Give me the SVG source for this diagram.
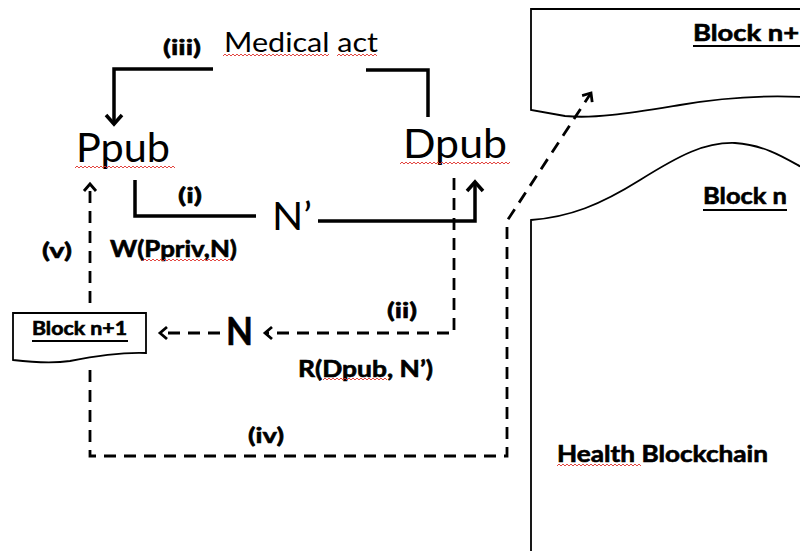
<svg xmlns="http://www.w3.org/2000/svg" width="800" height="551" viewBox="0 0 800 551">
<defs>
<style>
.t{font-family:Lato,"Open Sans","Liberation Sans",sans-serif;fill:#000}
.b{font-weight:bold;stroke:#000;stroke-width:0.6}
.s{fill:none;stroke:#000;stroke-width:3.5;stroke-linejoin:miter}
.d{fill:none;stroke:#000;stroke-width:2.8;stroke-dasharray:12 8}
.blk{fill:#fff;stroke:#000;stroke-width:1.8}
.u{stroke:#000;stroke-width:2}
.sq{fill:none;stroke:#e0302a;stroke-width:0.9}
</style>
<marker id="as" markerUnits="userSpaceOnUse" markerWidth="24" markerHeight="24" viewBox="-12 -12 24 24" refX="0" refY="0" orient="auto">
<path d="M-9,-8 L0,0 L-9,8" fill="none" stroke="#000" stroke-width="3.5"/>
</marker>
<marker id="ad" markerUnits="userSpaceOnUse" markerWidth="20" markerHeight="20" viewBox="-10 -10 20 20" refX="0" refY="0" orient="auto">
<path d="M-7,-6 L0,0 L-7,6" fill="none" stroke="#000" stroke-width="2.8"/>
</marker>
</defs>
<rect width="800" height="551" fill="#fff"/>

<g id="block-chain-right">
<path class="blk" d="M531,9 L803,9 L803,97 C760,95 720,98 680,105 C630,113 595,119 565,116 L531,110 Z"/>
<path class="blk" d="M531,553 L531,220 C570,217 600,205 640,180 C680,155 705,142 735,143 C765,145 785,158 803,168 L803,553"/>
<text class="t b" x="693" y="41" font-size="23" textLength="122" lengthAdjust="spacingAndGlyphs">Block n+1</text>
<line class="u" x1="693" y1="46" x2="805" y2="46"/>
<text class="t b" x="703" y="204" font-size="23" textLength="84" lengthAdjust="spacingAndGlyphs">Block n</text>
<line class="u" x1="703" y1="210" x2="787" y2="210"/>
<text class="t b" x="557" y="462" font-size="22" textLength="211" lengthAdjust="spacingAndGlyphs">Health Blockchain</text>
</g>

<g id="block-n1-small">
<path class="blk" d="M13,313 L146,313 L146,353 C120,352 95,356 70,361 C50,364 30,362 13,360 Z"/>
<text class="t b" x="32" y="335" font-size="18" textLength="95" lengthAdjust="spacingAndGlyphs">Block n+1</text>
<line class="u" x1="32" y1="341" x2="128" y2="341" stroke-width="1.5"/>
</g>

<g id="ppub">
<text class="t" x="76" y="162" font-size="40" textLength="94" lengthAdjust="spacingAndGlyphs">Ppub</text>
</g>
<g id="dpub">
<text class="t" x="403" y="158" font-size="40" textLength="104" lengthAdjust="spacingAndGlyphs">Dpub</text>
</g>
<g id="nprime">
<text class="t" x="272" y="230" font-size="39" textLength="40" lengthAdjust="spacingAndGlyphs">N’</text>
</g>
<g id="n">
<text class="t b" x="226" y="345" font-size="39" textLength="27" lengthAdjust="spacingAndGlyphs" stroke-width="1.5">N</text>
</g>
<g id="medical-act">
<text class="t" x="224" y="52" font-size="27" textLength="154" lengthAdjust="spacingAndGlyphs">Medical act</text>
</g>

<g id="connectors">
<path class="s" d="M213,69 H114 V124" marker-end="url(#as)"/>
<path class="s" d="M366,70 H428 V117"/>
<path class="s" d="M135,180 V216 H256"/>
<path class="s" d="M318,221 H475 V182" marker-end="url(#as)"/>
<path class="d" d="M454,178 V333 H265" marker-end="url(#ad)"/>
<path class="d" d="M220,333 H160" marker-end="url(#ad)"/>
<path class="d" d="M90,303 V184" marker-end="url(#ad)"/>
<path class="d" d="M90,370 V456 H507 V221 L591,93" marker-end="url(#ad)"/>
</g>

<g id="labels">
<text class="t b" x="163" y="55" font-size="21" textLength="38" lengthAdjust="spacingAndGlyphs">(iii)</text>
<text class="t b" x="178" y="203" font-size="21" textLength="24" lengthAdjust="spacingAndGlyphs">(i)</text>
<text class="t b" x="42" y="258" font-size="21" textLength="30" lengthAdjust="spacingAndGlyphs">(v)</text>
<text class="t b" x="110" y="257" font-size="22" textLength="127" lengthAdjust="spacingAndGlyphs">W(Ppriv,N)</text>
<text class="t b" x="387" y="318" font-size="21" textLength="30" lengthAdjust="spacingAndGlyphs">(ii)</text>
<text class="t b" x="298" y="377" font-size="22" textLength="135" lengthAdjust="spacingAndGlyphs">R(Dpub, N’)</text>
<text class="t b" x="248" y="443" font-size="21" textLength="36" lengthAdjust="spacingAndGlyphs">(iv)</text>
</g>

<g id="spellcheck">
<path class="sq" d="M223,56 l2,-2 2,2 2,-2 2,2 2,-2 2,2 2,-2 2,2 2,-2 2,2 2,-2 2,2 2,-2 2,2 2,-2 2,2 2,-2 2,2 2,-2 2,2 2,-2 2,2 2,-2 2,2 2,-2 2,2 2,-2 2,2 2,-2 2,2 2,-2 2,2 2,-2 2,2 2,-2 2,2 2,-2 2,2 2,-2 2,2 2,-2 2,2 2,-2 2,2 2,-2 2,2 2,-2 2,2 2,-2 2,2 2,-2 2,2 2,-2"/>
<path class="sq" d="M337,56 l2,-2 2,2 2,-2 2,2 2,-2 2,2 2,-2 2,2 2,-2 2,2 2,-2 2,2 2,-2 2,2 2,-2 2,2 2,-2 2,2 2,-2 2,2"/>
<path class="sq" d="M75,168 l2,-2 2,2 2,-2 2,2 2,-2 2,2 2,-2 2,2 2,-2 2,2 2,-2 2,2 2,-2 2,2 2,-2 2,2 2,-2 2,2 2,-2 2,2 2,-2 2,2 2,-2 2,2 2,-2 2,2 2,-2 2,2 2,-2 2,2 2,-2 2,2 2,-2 2,2 2,-2 2,2 2,-2 2,2 2,-2 2,2 2,-2 2,2 2,-2 2,2 2,-2 2,2 2,-2 2,2 2,-2 2,2"/>
<path class="sq" d="M400,164 l2,-2 2,2 2,-2 2,2 2,-2 2,2 2,-2 2,2 2,-2 2,2 2,-2 2,2 2,-2 2,2 2,-2 2,2 2,-2 2,2 2,-2 2,2 2,-2 2,2 2,-2 2,2 2,-2 2,2 2,-2 2,2 2,-2 2,2 2,-2 2,2 2,-2 2,2 2,-2 2,2 2,-2 2,2 2,-2 2,2 2,-2 2,2 2,-2 2,2 2,-2 2,2 2,-2 2,2 2,-2 2,2 2,-2 2,2 2,-2 2,2 2,-2"/>
<path class="sq" d="M143,261 l2,-2 2,2 2,-2 2,2 2,-2 2,2 2,-2 2,2 2,-2 2,2 2,-2 2,2 2,-2 2,2 2,-2 2,2 2,-2 2,2 2,-2 2,2 2,-2 2,2 2,-2 2,2 2,-2 2,2 2,-2 2,2 2,-2 2,2 2,-2 2,2 2,-2 2,2 2,-2 2,2 2,-2 2,2 2,-2 2,2 2,-2 2,2 2,-2 2,2"/>
<path class="sq" d="M323,380 l2,-2 2,2 2,-2 2,2 2,-2 2,2 2,-2 2,2 2,-2 2,2 2,-2 2,2 2,-2 2,2 2,-2 2,2 2,-2 2,2 2,-2 2,2 2,-2 2,2 2,-2 2,2 2,-2 2,2 2,-2 2,2 2,-2 2,2 2,-2 2,2"/>
<path class="sq" d="M557,466 l2,-2 2,2 2,-2 2,2 2,-2 2,2 2,-2 2,2 2,-2 2,2 2,-2 2,2 2,-2 2,2 2,-2 2,2 2,-2 2,2 2,-2 2,2 2,-2 2,2 2,-2 2,2 2,-2 2,2 2,-2 2,2 2,-2 2,2 2,-2 2,2 2,-2 2,2 2,-2 2,2 2,-2 2,2 2,-2 2,2 2,-2 2,2"/>
</g>
</svg>
